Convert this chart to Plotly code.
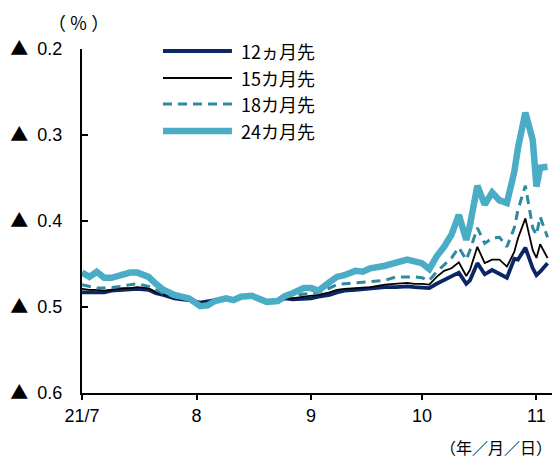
import plotly.graph_objects as go

dates = [
    "2021-07-01", "2021-07-03", "2021-07-05", "2021-07-07", "2021-07-09", "2021-07-12",
    "2021-07-14", "2021-07-16", "2021-07-19", "2021-07-21", "2021-07-23", "2021-07-26",
    "2021-07-28", "2021-07-30", "2021-08-02", "2021-08-04", "2021-08-06", "2021-08-09",
    "2021-08-11", "2021-08-13", "2021-08-16", "2021-08-18", "2021-08-20", "2021-08-23",
    "2021-08-25", "2021-08-27", "2021-08-30", "2021-09-01", "2021-09-03", "2021-09-06",
    "2021-09-08", "2021-09-10", "2021-09-13", "2021-09-15", "2021-09-17", "2021-09-21",
    "2021-09-24", "2021-09-27", "2021-09-29", "2021-10-01", "2021-10-03", "2021-10-05",
    "2021-10-07", "2021-10-09", "2021-10-11", "2021-10-13", "2021-10-14", "2021-10-16",
    "2021-10-18", "2021-10-20", "2021-10-22", "2021-10-24", "2021-10-26", "2021-10-27",
    "2021-10-29", "2021-10-31", "2021-11-01", "2021-11-02", "2021-11-04",
]

m12 = [-0.483, -0.483, -0.483, -0.483, -0.481, -0.480, -0.479, -0.479, -0.480, -0.484,
       -0.486, -0.490, -0.491, -0.492, -0.495, -0.494, -0.492, -0.490, -0.491, -0.488,
       -0.487, -0.491, -0.494, -0.493, -0.490, -0.491, -0.491, -0.490, -0.488, -0.486,
       -0.483, -0.481, -0.480, -0.479, -0.478, -0.477, -0.477, -0.476, -0.477, -0.477,
       -0.478, -0.473, -0.469, -0.465, -0.460, -0.473, -0.469, -0.449, -0.462, -0.457,
       -0.462, -0.466, -0.444, -0.445, -0.431, -0.455, -0.463, -0.459, -0.449]

m15 = [-0.479, -0.480, -0.480, -0.481, -0.480, -0.478, -0.478, -0.477, -0.478, -0.483,
       -0.485, -0.488, -0.490, -0.491, -0.495, -0.495, -0.493, -0.490, -0.491, -0.488,
       -0.487, -0.491, -0.494, -0.493, -0.490, -0.490, -0.488, -0.487, -0.486, -0.483,
       -0.480, -0.479, -0.478, -0.477, -0.477, -0.474, -0.473, -0.472, -0.473, -0.473,
       -0.474, -0.465, -0.458, -0.455, -0.448, -0.464, -0.457, -0.430, -0.449, -0.445,
       -0.445, -0.453, -0.436, -0.420, -0.397, -0.434, -0.443, -0.427, -0.443]

m18 = [-0.474, -0.476, -0.478, -0.478, -0.477, -0.476, -0.474, -0.473, -0.476, -0.480,
       -0.484, -0.488, -0.490, -0.491, -0.497, -0.497, -0.493, -0.490, -0.491, -0.488,
       -0.487, -0.491, -0.494, -0.493, -0.488, -0.487, -0.485, -0.485, -0.483, -0.478,
       -0.474, -0.473, -0.472, -0.471, -0.470, -0.469, -0.465, -0.465, -0.465, -0.466,
       -0.469, -0.459, -0.451, -0.443, -0.431, -0.445, -0.434, -0.408, -0.426, -0.420,
       -0.419, -0.430, -0.408, -0.387, -0.359, -0.408, -0.416, -0.395, -0.419]

m24 = [-0.460, -0.465, -0.459, -0.466, -0.466, -0.463, -0.460, -0.460, -0.465, -0.473,
       -0.480, -0.486, -0.488, -0.490, -0.499, -0.498, -0.493, -0.490, -0.492, -0.488,
       -0.487, -0.491, -0.494, -0.493, -0.487, -0.484, -0.478, -0.478, -0.481, -0.471,
       -0.465, -0.463, -0.458, -0.459, -0.455, -0.452, -0.448, -0.445, -0.447, -0.449,
       -0.456, -0.441, -0.430, -0.416, -0.393, -0.422, -0.405, -0.359, -0.381, -0.367,
       -0.376, -0.379, -0.343, -0.315, -0.274, -0.306, -0.360, -0.338, -0.337]

series_names = ["12ヵ月先", "15カ月先", "18カ月先", "24カ月先"]
series_colors = ["#0b2566", "#000000", "#2f8aa0", "#4bacc6"]
series_widths = [3.8, 1.8, 3, 6.5]
series_dash = ["solid", "solid", "9px,6px", "solid"]

x_tickvals = ["2021-07-01", "2021-08-01", "2021-09-01", "2021-10-01", "2021-11-01"]
x_ticktext = ["21/7", "8", "9", "10", "11"]
y_tickvals = [-0.6, -0.5, -0.4, -0.3, -0.2]
y_ticktext = ["<span style='font-family:Noto Sans CJK JP;font-size:18px'>▲</span>\u2002" + s
              for s in ["0.6", "0.5", "0.4", "0.3", "0.2"]]

JP = "Noto Sans CJK JP, Noto Sans CJK SC, sans-serif"

fig = go.Figure()
for name, vals, col, w, d in zip(series_names, [m12, m15, m18, m24],
                                 series_colors, series_widths, series_dash):
    fig.add_trace(go.Scatter(x=dates, y=vals, mode="lines", name=name,
                             line=dict(color=col, width=w, dash=d),
                             showlegend=False))

# manual legend
leg_y = [0.9942, 0.9157, 0.8401, 0.7616]
for i, (name, col, w, d) in enumerate(zip(series_names, series_colors,
                                          series_widths, series_dash)):
    fig.add_shape(type="line", xref="paper", yref="paper",
                  x0=0.1723, x1=0.319, y0=leg_y[i], y1=leg_y[i],
                  line=dict(color=col, width=w, dash=d))
    fig.add_annotation(xref="paper", yref="paper", x=0.334, y=leg_y[i],
                       text=name, showarrow=False, xanchor="left", yanchor="middle",
                       font=dict(family=JP, size=18, color="#000000"))

fig.add_annotation(xref="paper", yref="paper", x=-0.0064, y=1.078,
                   text="（\u2009％\u2009）",
                   showarrow=False, xanchor="center", yanchor="middle",
                   font=dict(family=JP, size=18, color="#000000"))
fig.add_annotation(xref="paper", yref="paper", x=1.004, y=-0.157, text="（年／月／日）",
                   showarrow=False, xanchor="right", yanchor="middle",
                   font=dict(family=JP, size=16, color="#000000"))

fig.update_layout(
    width=554, height=459,
    margin=dict(l=82, r=2, t=49, b=66),
    paper_bgcolor="white", plot_bgcolor="white",
    font=dict(family="Liberation Sans, Noto Sans CJK JP", size=15, color="#000000"),
    xaxis=dict(type="date", range=["2021-07-01", "2021-11-05 05:00"],
               tickvals=x_tickvals, ticktext=x_ticktext,
               showgrid=False, zeroline=False,
               showline=True, linecolor="#000000", linewidth=2,
               ticks="outside", ticklen=5, tickwidth=2, tickcolor="#000000",
               tickfont=dict(size=18)),
    yaxis=dict(range=[-0.6, -0.2], tickvals=y_tickvals, ticktext=y_ticktext,
               showgrid=False, zeroline=False,
               showline=True, linecolor="#000000", linewidth=2,
               ticks="inside", ticklen=6, tickwidth=2, tickcolor="#000000",
               ticklabelstandoff=14, tickfont=dict(size=18)),
)

fig.write_html("out.html", config={"displayModeBar": False})

# remove default page margin so the figure sits at the window's top-left
with open("out.html", "r", encoding="utf-8") as f:
    html = f.read()
html = html.replace("<head>", "<head><style>html,body{margin:0;padding:0;}</style>", 1)
with open("out.html", "w", encoding="utf-8") as f:
    f.write(html)
